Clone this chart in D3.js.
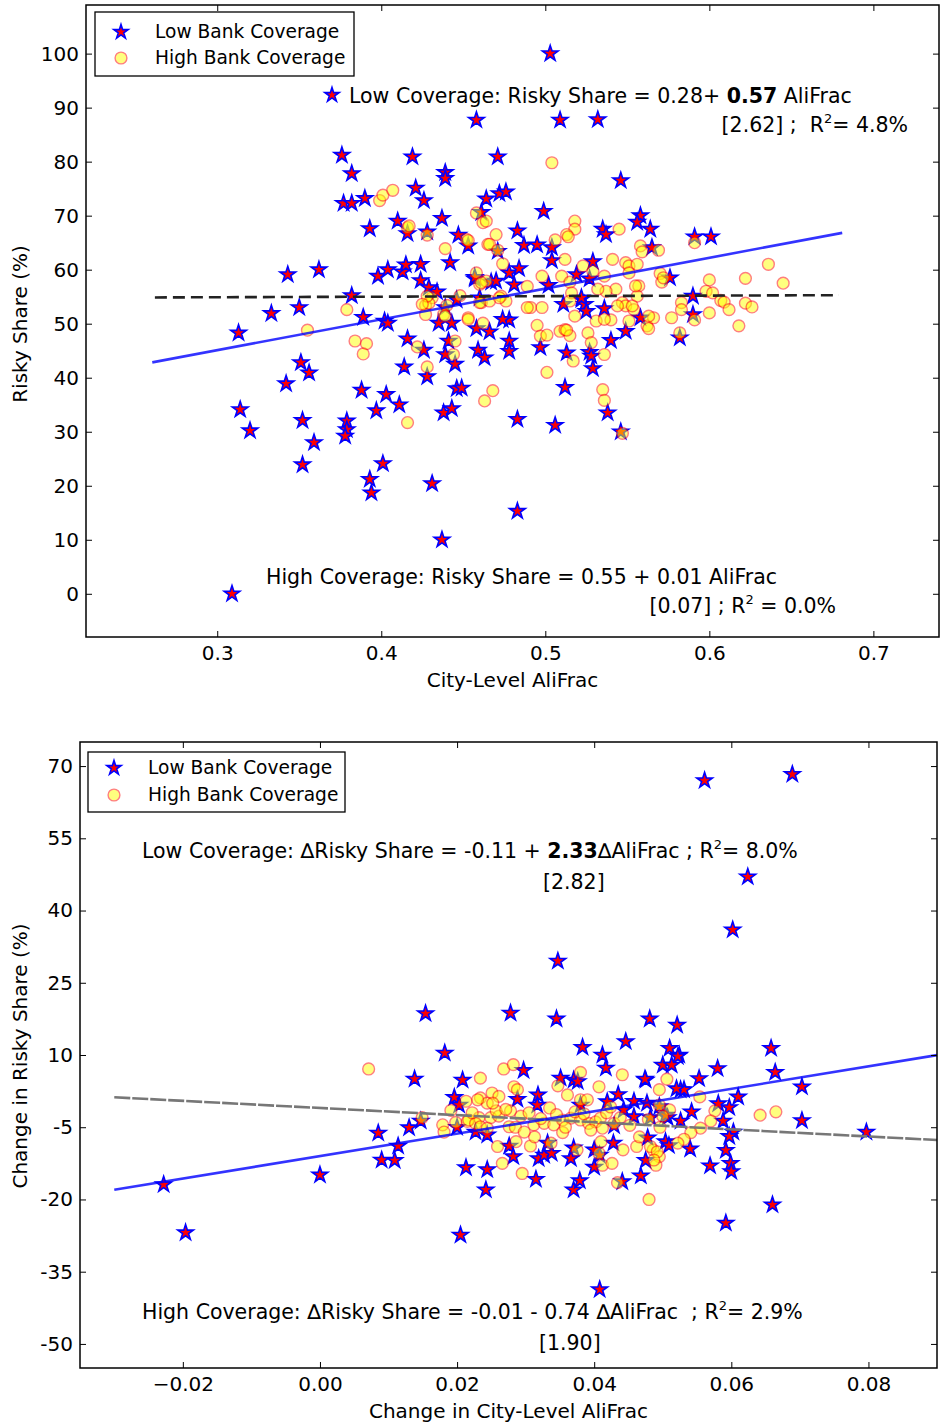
<!DOCTYPE html>
<html>
<head>
<meta charset="utf-8">
<script src="https://cdn.jsdelivr.net/npm/d3@7"></script>
<style>
  body { margin: 0; background: #fff; }
  text { font-family: "DejaVu Sans", sans-serif; }
</style>
</head>
<body>
<div id="viz"></div>
<script>
const width = 943;
const height = 1426;

// ---- data: [AliFrac, Risky Share %] ----
const topLowCoverage = [
  [0.458,87.7],[0.376,81.2],[0.419,80.9],[0.382,77.8],[0.471,80.9],[0.439,78.0],[0.439,76.9],
  [0.377,72.3],[0.382,72.3],[0.390,73.2],[0.421,75.1],[0.426,72.8],[0.464,73.1],[0.472,74.1],
  [0.476,74.4],[0.393,67.6],[0.410,69.0],[0.416,66.7],[0.428,67.0],[0.437,69.5],[0.447,66.4],
  [0.453,64.4],[0.461,70.6],[0.471,63.4],[0.343,59.1],[0.362,60.0],[0.398,58.8],[0.404,60.0],
  [0.413,59.6],[0.415,60.9],[0.424,61.0],[0.442,61.3],[0.424,58.0],[0.429,56.7],[0.434,55.9],
  [0.457,58.3],[0.478,59.4],[0.467,57.7],[0.382,55.2],[0.333,51.9],[0.350,53.0],[0.389,51.2],
  [0.402,50.5],[0.404,50.1],[0.313,48.3],[0.416,47.2],[0.426,45.1],[0.439,44.3],[0.441,46.8],
  [0.435,50.1],[0.443,50.1],[0.445,42.5],[0.428,40.2],[0.414,42.0],[0.458,49.1],[0.466,48.5],
  [0.459,45.1],[0.463,43.7],[0.478,46.8],[0.478,44.9],[0.351,42.8],[0.356,40.9],[0.342,38.9],
  [0.388,37.7],[0.403,36.9],[0.411,35.0],[0.397,33.9],[0.446,38.0],[0.449,38.1],[0.438,33.5],
  [0.443,34.3],[0.314,34.1],[0.320,30.2],[0.352,32.1],[0.359,28.0],[0.379,32.0],[0.379,30.4],
  [0.378,29.2],[0.352,23.9],[0.401,24.1],[0.393,21.2],[0.394,18.7],[0.431,20.4],[0.437,10.0],
  [0.309,0.0],[0.483,32.3],[0.483,15.3],[0.503,100.0],[0.509,87.7],[0.532,87.8],[0.546,76.5],
  [0.499,70.8],[0.558,70.0],[0.556,68.8],[0.564,67.5],[0.535,67.5],[0.537,66.5],[0.483,67.2],
  [0.565,64.1],[0.487,64.5],[0.495,64.6],[0.504,64.1],[0.504,61.7],[0.529,61.5],[0.519,59.1],
  [0.527,58.3],[0.591,66.1],[0.601,66.1],[0.576,58.5],[0.590,55.1],[0.590,51.7],[0.502,57.1],
  [0.522,54.5],[0.524,53.6],[0.536,52.8],[0.478,50.7],[0.474,50.8],[0.497,45.6],[0.513,44.6],
  [0.527,44.7],[0.528,44.0],[0.529,41.7],[0.512,38.2],[0.540,46.9],[0.549,48.6],[0.525,52.3],
  [0.558,51.1],[0.582,47.4],[0.506,31.2],[0.538,33.5],[0.546,30.0],[0.457,58.6],[0.470,57.9],
  [0.484,60.2],[0.481,57.2],[0.460,54.8],[0.446,54.4],[0.439,53.0],[0.511,53.6],[0.522,54.8]
];

const topHighCoverage = [
  [0.399,72.8],[0.401,73.8],[0.407,74.7],[0.458,70.5],[0.462,68.7],[0.464,69.0],[0.470,66.5],
  [0.465,64.7],[0.474,61.1],[0.416,67.8],[0.428,66.4],[0.439,63.9],[0.452,65.6],[0.458,59.4],
  [0.460,57.3],[0.464,57.9],[0.448,55.2],[0.431,54.8],[0.427,53.4],[0.429,53.8],[0.440,53.4],
  [0.461,53.9],[0.466,54.2],[0.473,55.1],[0.476,54.2],[0.379,52.6],[0.453,51.1],[0.427,51.7],
  [0.438,51.7],[0.504,79.8],[0.518,69.0],[0.518,67.5],[0.513,66.5],[0.514,66.1],[0.545,67.5],
  [0.506,65.5],[0.591,65.0],[0.569,63.6],[0.558,64.4],[0.559,63.3],[0.512,61.9],[0.541,61.9],
  [0.549,61.3],[0.551,60.7],[0.551,59.4],[0.556,61.0],[0.523,60.7],[0.529,59.7],[0.498,58.8],
  [0.510,58.8],[0.515,57.7],[0.536,58.8],[0.570,59.3],[0.571,57.7],[0.557,57.0],[0.600,58.1],
  [0.622,58.4],[0.636,61.0],[0.645,57.5],[0.598,56.0],[0.602,55.7],[0.607,54.3],[0.609,54.0],
  [0.622,53.8],[0.626,53.1],[0.600,52.0],[0.583,53.9],[0.583,52.6],[0.516,55.7],[0.515,54.2],
  [0.491,53.0],[0.498,53.0],[0.543,56.4],[0.547,53.9],[0.549,53.3],[0.554,52.6],[0.556,55.1],
  [0.495,49.7],[0.497,47.7],[0.501,47.9],[0.509,48.6],[0.512,48.9],[0.515,47.8],[0.518,51.4],
  [0.526,48.3],[0.528,46.5],[0.531,50.5],[0.540,50.7],[0.562,49.6],[0.563,49.1],[0.566,51.1],
  [0.577,51.1],[0.582,48.3],[0.591,50.7],[0.612,52.6],[0.618,49.6],[0.517,43.1],[0.501,41.0],
  [0.536,44.3],[0.535,37.8],[0.536,35.8],[0.547,29.7],[0.355,48.8],[0.384,46.8],[0.391,46.3],
  [0.389,44.4],[0.422,45.7],[0.428,42.0],[0.445,46.8],[0.444,44.3],[0.453,50.8],[0.468,37.6],
  [0.463,35.7],[0.416,31.7],[0.417,68.1],[0.453,65.4],[0.466,64.7],[0.471,63.6],[0.461,57.6],
  [0.489,56.9],[0.572,58.5],[0.428,55.1],[0.425,53.6],[0.439,51.4],[0.462,50.1],[0.460,53.9],
  [0.472,54.8],[0.489,53.0],[0.513,48.8],[0.536,50.8],[0.544,53.3],[0.553,53.3],[0.551,50.5],
  [0.563,51.4],[0.555,57.0],[0.537,56.0],[0.532,56.4]
];

// ---- data: [change in AliFrac, change in Risky Share %] ----
const bottomLowCoverage = [
  [0.0561,67.0],[0.0689,68.3],[0.0624,47.0],[0.0602,36.0],[0.0347,29.5],[0.0345,17.5],[0.0383,11.6],
  [0.0412,10.0],[0.0446,12.8],[0.0481,17.5],[0.0521,16.2],[0.0510,11.4],[0.0524,10.0],[0.0658,11.4],
  [0.0154,18.6],[0.0278,18.7],[0.0182,10.4],[0.0138,5.0],[0.0208,4.8],[0.0297,6.8],[-0.0228,-16.9],
  [-0.0196,-26.9],[0.0000,-14.9],[0.0085,-6.2],[0.0090,-11.8],[0.0109,-11.9],[0.0114,-8.9],[0.0205,-27.4],
  [0.0408,-38.7],[0.0592,-24.9],[0.0660,-21.1],[0.0797,-6.0],[0.0703,3.4],[0.0703,-3.6],[0.0664,6.4],
  [0.0522,9.7],[0.0500,7.9],[0.0513,7.9],[0.0580,7.2],[0.0553,5.1],[0.0475,4.8],[0.0526,2.8],
  [0.0531,2.8],[0.0610,1.3],[0.0597,-0.9],[0.0581,-0.1],[0.0542,-1.8],[0.0526,-3.7],[0.0507,-3.0],
  [0.0482,-3.0],[0.0588,-3.7],[0.0603,-6.0],[0.0597,-6.9],[0.0478,-7.2],[0.0504,-8.0],[0.0509,-8.8],
  [0.0540,-9.5],[0.0592,-9.8],[0.0475,-11.9],[0.0468,-15.1],[0.0569,-13.0],[0.0599,-12.5],[0.0600,-14.2],
  [0.0417,7.3],[0.0351,5.2],[0.0370,4.8],[0.0376,4.5],[0.0474,5.0],[0.0196,1.2],[0.0203,-0.4],
  [0.0318,1.7],[0.0435,1.8],[0.0419,0.3],[0.0443,-1.4],[0.0458,-2.8],[0.0504,-2.5],[0.0130,-5.1],
  [0.0147,-3.7],[0.0200,-5.0],[0.0227,-6.0],[0.0244,-6.6],[0.0213,-13.4],[0.0244,-13.8],[0.0242,-18.0],
  [0.0276,-8.9],[0.0282,-11.1],[0.0315,-15.8],[0.0319,-11.5],[0.0327,-10.8],[0.0338,-10.4],[0.0332,-8.3],
  [0.0366,-11.5],[0.0370,-9.3],[0.0370,-18.0],[0.0379,-16.1],[0.0400,-9.7],[0.0400,-13.3],[0.0408,-10.8],
  [0.0428,-8.3],[0.0429,-4.7],[0.0441,-16.3],[0.0458,0.4],[0.0477,0.0],[0.0495,-0.7],[0.0520,3.0],
  [0.0380,-0.4],[0.0288,0.8],[0.0317,-0.4]
];

const bottomHighCoverage = [
  [0.0071,7.1],[0.0268,7.1],[0.0282,8.0],[0.0234,5.2],[0.0380,6.4],[0.0441,5.9],[0.0283,3.4],
  [0.0288,2.8],[0.0347,3.6],[0.0361,1.7],[0.0380,0.7],[0.0390,0.7],[0.0407,3.4],[0.0251,2.1],
  [0.0261,1.4],[0.0234,1.1],[0.0244,0.0],[0.0230,0.7],[0.0213,0.4],[0.0149,-3.0],[0.0179,-4.5],
  [0.0181,-6.0],[0.0215,-3.8],[0.0232,-3.0],[0.0249,-3.0],[0.0261,-2.7],[0.0278,-1.6],[0.0293,-2.7],
  [0.0257,-1.6],[0.0271,-1.3],[0.0252,0.0],[0.0217,-3.5],[0.0227,-4.2],[0.0234,-4.9],[0.0244,-5.2],
  [0.0276,-4.9],[0.0285,-5.0],[0.0312,-4.5],[0.0327,-4.2],[0.0341,-4.5],[0.0354,-3.5],[0.0366,-3.1],
  [0.0380,-3.5],[0.0392,-4.2],[0.0402,-3.9],[0.0409,-3.1],[0.0429,-4.2],[0.0412,-5.2],[0.0259,-9.0],
  [0.0266,-12.5],[0.0295,-14.6],[0.0307,-8.9],[0.0313,-7.0],[0.0337,-8.3],[0.0354,-6.1],[0.0375,-9.7],
  [0.0410,-8.0],[0.0412,-12.9],[0.0426,-12.5],[0.0442,-9.7],[0.0462,-9.0],[0.0486,-9.7],[0.0495,-11.1],
  [0.0490,-12.9],[0.0480,-20.0],[0.0434,-16.5],[0.0407,-10.4],[0.0506,5.0],[0.0495,2.8],[0.0554,1.3],
  [0.0495,-0.4],[0.0510,-1.4],[0.0500,-2.7],[0.0576,-1.6],[0.0570,-3.7],[0.0642,-2.5],[0.0665,-1.8],
  [0.0555,-5.2],[0.0541,-6.1],[0.0531,-7.5],[0.0522,-8.3],[0.0496,-5.0],[0.0479,-3.4],[0.0482,-9.0],
  [0.0492,-10.1],[0.0487,-11.8],[0.0466,-7.0],[0.0305,-2.0],[0.0322,-3.2],[0.0335,-1.0],[0.0345,-2.4],
  [0.0358,-5.0],[0.0372,-1.8],[0.0385,-2.2],[0.0395,-5.6],[0.0418,-2.0],[0.0424,-0.8],[0.0438,-3.0],
  [0.0452,-4.6],[0.0298,-6.0],[0.0286,-8.0],[0.0222,-2.0],[0.0198,-4.0],[0.0191,-1.5]
];

// fitted lines: intercept (%), slope (% per unit), x extent
const topLowFit = {intercept: 28, slope: 57, from: 0.2604, to: 0.681};
const topHighFit = {intercept: 54.6, slope: 1, from: 0.262, to: 0.679};
const bottomLowFit = {intercept: -11, slope: 233, from: -0.030, to: 0.09};
const bottomHighFit = {intercept: -1, slope: -74, from: -0.030, to: 0.09};

const topXTicks = [0.3, 0.4, 0.5, 0.6, 0.7];
const topYTicks = [0, 10, 20, 30, 40, 50, 60, 70, 80, 90, 100];
const bottomXTicks = [-0.02, 0.00, 0.02, 0.04, 0.06, 0.08];
const bottomYTicks = [70, 55, 40, 25, 10, -5, -20, -35, -50];

const legendLabels = ['Low Bank Coverage', 'High Bank Coverage'];

const svg = d3.select('#viz')
  .append('svg')
    .attr('width', width)
    .attr('height', height);

const starPath = d3.symbol(d3.symbolStar, 76)();
const legendStarPath = d3.symbol(d3.symbolStar, 64)();

const drawPanel = (p) => {
  const g = svg.append('g');
  const xScale = d3.scaleLinear().domain(p.xDomain).range([p.left, p.right]);
  const yScale = d3.scaleLinear().domain(p.yDomain).range([p.bottom, p.top]);

  // points: stars first, translucent circles on top
  g.append('g')
    .selectAll('path')
    .data(p.low)
    .join('path')
      .attr('d', starPath)
      .attr('transform', d => `translate(${xScale(d[0])},${yScale(d[1])})`)
      .attr('fill', 'red')
      .attr('stroke', 'blue')
      .attr('stroke-width', 1.6);

  g.append('g')
    .selectAll('circle')
    .data(p.high)
    .join('circle')
      .attr('cx', d => xScale(d[0]))
      .attr('cy', d => yScale(d[1]))
      .attr('r', 5.9)
      .attr('fill', 'yellow')
      .attr('stroke', 'red')
      .attr('stroke-width', 1.4)
      .attr('opacity', 0.5);

  // regression lines
  const line = d3.line().x(d => xScale(d[0])).y(d => yScale(d[1]));
  const ends = f => [[f.from, f.intercept + f.slope * f.from], [f.to, f.intercept + f.slope * f.to]];

  p.lines.forEach(l => {
    g.append('path')
      .attr('d', line(ends(l.fit)))
      .attr('fill', 'none')
      .attr('stroke', l.color)
      .attr('stroke-width', l.width)
      .attr('stroke-dasharray', l.dash || null)
      .attr('stroke-opacity', l.opacity || 1);
  });

  // axes with inward ticks on all four sides
  const styleAxis = a => {
    a.select('.domain').remove();
    a.selectAll('text').attr('font-size', 20).attr('font-family', '"DejaVu Sans", sans-serif').attr('fill', '#000');
    a.selectAll('line').attr('stroke', '#000');
  };

  g.append('g')
    .attr('transform', `translate(0,${p.bottom})`)
    .call(d3.axisBottom(xScale).tickValues(p.xTicks).tickFormat(p.xFormat).tickSizeInner(-6).tickSizeOuter(0).tickPadding(9))
    .call(styleAxis);
  g.append('g')
    .attr('transform', `translate(0,${p.top})`)
    .call(d3.axisTop(xScale).tickValues(p.xTicks).tickFormat('').tickSizeInner(-6).tickSizeOuter(0))
    .call(styleAxis);
  g.append('g')
    .attr('transform', `translate(${p.left},0)`)
    .call(d3.axisLeft(yScale).tickValues(p.yTicks).tickFormat(d => String(d)).tickSizeInner(-6).tickSizeOuter(0).tickPadding(7))
    .call(styleAxis);
  g.append('g')
    .attr('transform', `translate(${p.right},0)`)
    .call(d3.axisRight(yScale).tickValues(p.yTicks).tickFormat('').tickSizeInner(-6).tickSizeOuter(0))
    .call(styleAxis);

  g.append('rect')
    .attr('x', p.left)
    .attr('y', p.top)
    .attr('width', p.right - p.left)
    .attr('height', p.bottom - p.top)
    .attr('fill', 'none')
    .attr('stroke', '#000')
    .attr('stroke-width', 1.5);

  // axis titles
  g.append('text')
    .attr('x', (p.left + p.right) / 2)
    .attr('y', p.xTitleY)
    .attr('text-anchor', 'middle')
    .attr('font-size', 20)
    .text(p.xTitle);
  g.append('text')
    .attr('transform', `translate(27,${p.yTitleY}) rotate(-90)`)
    .attr('text-anchor', 'middle')
    .attr('font-size', 20)
    .text(p.yTitle);

  // legend
  const lg = g.append('g').attr('transform', `translate(${p.legend[0]},${p.legend[1]})`);
  lg.append('rect')
    .attr('width', p.legend[2])
    .attr('height', p.legend[3])
    .attr('fill', '#fff')
    .attr('stroke', '#000')
    .attr('stroke-width', 1.3);
  lg.append('path')
    .attr('d', legendStarPath)
    .attr('transform', `translate(26,${p.legend[4]})`)
    .attr('fill', 'red').attr('stroke', 'blue').attr('stroke-width', 1.6);
  lg.append('circle')
    .attr('cx', 26).attr('cy', p.legend[5]).attr('r', 5.9)
    .attr('fill', 'yellow').attr('stroke', 'red').attr('stroke-width', 1.4).attr('opacity', 0.5);
  legendLabels.forEach((lab, i) => {
    lg.append('text')
      .attr('x', 60)
      .attr('y', p.legend[4 + i] + 6)
      .attr('font-size', 18.6)
      .text(lab);
  });

  return g;
};

// helper for text with bold part and superscripts
const richText = (g, x, y, parts, anchor) => {
  const t = g.append('text')
    .attr('x', x)
    .attr('y', y)
    .attr('font-size', 20.5)
    .attr('text-anchor', anchor || 'start')
    .style('white-space', 'pre');
  let shifted = false;
  parts.forEach(pt => {
    const s = t.append('tspan').text(pt.t);
    if (pt.b) s.attr('font-weight', 'bold');
    if (pt.sup) { s.attr('font-size', 13).attr('dy', -9); shifted = true; }
    else if (shifted) { s.attr('dy', 9); shifted = false; }
  });
  return t;
};

// ---- top panel ----
const topPanel = drawPanel({
  left: 86, right: 939, top: 5, bottom: 637,
  xDomain: [0.22, 0.74], yDomain: [-8, 109],
  xTicks: topXTicks, yTicks: topYTicks, xFormat: d3.format('.1f'),
  low: topLowCoverage, high: topHighCoverage,
  lines: [
    {fit: topHighFit, color: '#222', width: 2.6, dash: '12,6'},
    {fit: topLowFit, color: 'blue', width: 2.6, opacity: 0.8}
  ],
  xTitle: 'City-Level AliFrac', xTitleY: 687,
  yTitle: 'Risky Share (%)', yTitleY: 324,
  legend: [95, 12, 259, 64, 20, 46]
});

topPanel.append('path')
  .attr('d', legendStarPath)
  .attr('transform', 'translate(332,95)')
  .attr('fill', 'red').attr('stroke', 'blue').attr('stroke-width', 1.6);
richText(topPanel, 349, 103, [{t: 'Low Coverage: Risky Share = 0.28+ '}, {t: '0.57', b: true}, {t: ' AliFrac'}]);
richText(topPanel, 908, 132, [{t: '[2.62] ;  R'}, {t: '2', sup: true}, {t: '= 4.8%'}], 'end');
richText(topPanel, 266, 584, [{t: 'High Coverage: Risky Share = 0.55 + 0.01 AliFrac'}]);
richText(topPanel, 836, 613, [{t: '[0.07] ; R'}, {t: '2', sup: true}, {t: ' = 0.0%'}], 'end');

// ---- bottom panel ----
const bottomPanel = drawPanel({
  left: 80, right: 937, top: 742, bottom: 1368,
  xDomain: [-0.035, 0.09], yDomain: [-55, 75],
  xTicks: bottomXTicks, yTicks: bottomYTicks, xFormat: d3.format('.2f'),
  low: bottomLowCoverage, high: bottomHighCoverage,
  lines: [
    {fit: bottomHighFit, color: '#777', width: 2.6, dash: '16,2'},
    {fit: bottomLowFit, color: 'blue', width: 2.6, opacity: 0.8}
  ],
  xTitle: 'Change in City-Level AliFrac', xTitleY: 1418,
  yTitle: 'Change in Risky Share (%)', yTitleY: 1056,
  legend: [88, 752, 257, 60, 16, 43]
});

richText(bottomPanel, 142, 858, [{t: 'Low Coverage: \u2206Risky Share = -0.11 + '}, {t: '2.33', b: true}, {t: '\u2206AliFrac ; R'}, {t: '2', sup: true}, {t: '= 8.0%'}]);
richText(bottomPanel, 543, 889, [{t: '[2.82]'}]);
richText(bottomPanel, 142, 1319, [{t: 'High Coverage: \u2206Risky Share = -0.01 - 0.74 \u2206AliFrac  ; R'}, {t: '2', sup: true}, {t: '= 2.9%'}]);
richText(bottomPanel, 539, 1350, [{t: '[1.90]'}]);
</script>
</body>
</html>
